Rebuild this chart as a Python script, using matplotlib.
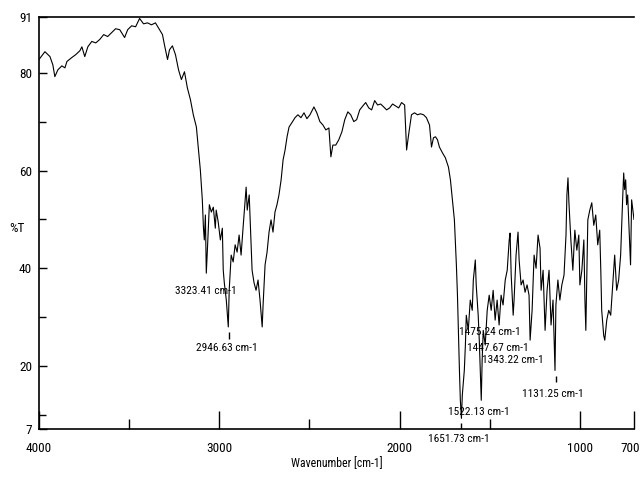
import matplotlib
matplotlib.use("Agg")
import matplotlib.pyplot as plt
from matplotlib.ticker import FixedLocator
from matplotlib.transforms import offset_copy

# FTIR spectrum
wavenumber = [
    4000, 3967, 3939, 3923, 3912, 3895, 3873, 3856, 3845, 3818, 3796, 3773,
    3762, 3746, 3729, 3707, 3685, 3663, 3641, 3619, 3597, 3575, 3552, 3525,
    3508, 3486, 3464, 3442, 3420, 3398, 3376, 3354, 3331, 3315, 3304, 3287,
    3276, 3260, 3243, 3226, 3210, 3193, 3177, 3160, 3144, 3127, 3116, 3105,
    3094, 3088, 3083, 3077, 3072, 3066, 3055, 3044, 3033, 3022, 3017, 3006,
    2994, 2983, 2978, 2972, 2961, 2950, 2945, 2934, 2923, 2912, 2901, 2890,
    2879, 2867, 2856, 2851, 2845, 2834, 2823, 2818, 2807, 2796, 2785, 2774,
    2762, 2757, 2746, 2735, 2724, 2713, 2702, 2691, 2680, 2669, 2657, 2646,
    2635, 2624, 2613, 2597, 2580, 2564, 2547, 2530, 2514, 2497, 2475, 2459,
    2442, 2425, 2409, 2392, 2381, 2370, 2354, 2337, 2320, 2304, 2287, 2271,
    2254, 2238, 2221, 2204, 2188, 2171, 2155, 2138, 2122, 2105, 2088, 2072,
    2055, 2039, 2022, 2005, 1989, 1972, 1961, 1950, 1934, 1917, 1901, 1884,
    1867, 1851, 1834, 1823, 1812, 1801, 1790, 1779, 1762, 1746, 1729, 1718,
    1707, 1696, 1690, 1685, 1679, 1674, 1668, 1663, 1657, 1652, 1641, 1635,
    1630, 1619, 1608, 1597, 1591, 1580, 1575, 1564, 1558, 1547, 1542, 1536,
    1525, 1514, 1503, 1492, 1481, 1470, 1459, 1448, 1437, 1426, 1414, 1403,
    1392, 1387, 1381, 1370, 1365, 1354, 1343, 1337, 1326, 1315, 1304, 1293,
    1282, 1276, 1265, 1254, 1243, 1232, 1221, 1215, 1204, 1193, 1182, 1171,
    1160, 1149, 1138, 1133, 1122, 1111, 1100, 1088, 1077, 1072, 1066, 1061,
    1050, 1039, 1028, 1017, 1006, 1000, 989, 978, 972, 967, 961, 956,
    945, 934, 923, 912, 901, 890, 884, 879, 868, 862, 851, 840,
    829, 818, 807, 796, 785, 774, 763, 757, 752, 746, 741, 735,
    724, 719, 713, 700,
]
transmittance = [
    82.7, 84.3, 83.3, 81.6, 79.2, 80.6, 81.4, 81.0, 82.3, 83.1, 83.7, 84.5,
    85.3, 83.3, 85.3, 86.4, 86.1, 86.8, 87.8, 87.4, 88.2, 89.0, 88.8, 87.2,
    88.8, 89.6, 89.4, 91.1, 90.0, 90.2, 89.8, 90.2, 88.8, 87.8, 85.7, 82.7,
    84.7, 85.5, 83.7, 80.6, 78.6, 80.2, 76.9, 74.5, 71.4, 68.9, 64.6, 60.1,
    54.0, 48.4, 45.8, 50.9, 39.0, 43.7, 53.0, 51.5, 52.5, 48.2, 51.9, 49.5,
    45.8, 48.2, 39.6, 37.0, 33.5, 28.0, 35.5, 42.7, 41.3, 44.8, 43.3, 46.8,
    42.7, 48.8, 54.0, 56.6, 51.9, 55.0, 44.8, 39.6, 37.0, 35.5, 37.6, 33.5,
    28.0, 32.5, 40.7, 43.3, 47.4, 49.9, 47.4, 51.5, 53.0, 55.0, 58.1, 62.2,
    64.2, 66.9, 68.9, 69.8, 70.8, 71.4, 70.8, 71.8, 70.6, 71.4, 73.0, 71.8,
    70.0, 69.3, 68.3, 68.7, 62.8, 65.2, 65.2, 66.3, 67.9, 70.4, 72.0, 71.4,
    70.0, 70.4, 72.4, 73.2, 73.9, 72.8, 72.4, 74.3, 73.4, 73.6, 73.0, 72.4,
    72.8, 73.6, 73.2, 72.8, 73.9, 73.4, 64.2, 67.3, 71.4, 71.8, 71.4, 71.6,
    71.4, 70.8, 69.3, 64.8, 66.7, 66.9, 66.3, 64.8, 63.6, 62.6, 60.7, 58.1,
    54.0, 49.9, 44.8, 40.7, 34.5, 27.3, 19.1, 13.0, 9.3, 14.1, 19.1, 24.3,
    30.4, 27.3, 33.5, 31.4, 37.6, 41.7, 36.6, 30.4, 25.3, 13.0, 21.2, 27.3,
    24.3, 31.4, 34.5, 31.4, 35.5, 29.4, 33.5, 28.4, 34.5, 32.5, 37.6, 39.6,
    45.8, 47.2, 38.6, 30.4, 33.5, 42.7, 47.4, 41.7, 36.6, 37.6, 35.1, 36.6,
    34.5, 25.3, 31.4, 42.7, 40.0, 46.8, 44.1, 35.5, 39.6, 27.3, 35.5, 39.6,
    28.4, 33.5, 19.1, 32.5, 37.6, 33.5, 36.6, 38.6, 46.8, 55.0, 58.5, 53.6,
    45.8, 39.6, 47.8, 43.7, 46.8, 36.6, 39.6, 45.8, 33.5, 27.3, 39.6, 49.9,
    51.9, 53.4, 48.8, 50.9, 44.8, 47.8, 39.6, 31.4, 26.3, 25.3, 29.4, 31.4,
    30.4, 36.6, 42.7, 35.5, 37.6, 42.7, 54.0, 59.5, 56.1, 58.1, 53.0, 55.0,
    44.8, 40.7, 54.0, 50.0,
]

# peak labels as printed on the chart
peak_labels = [
    "3323.41 cm-1", "2946.63 cm-1", "1475.24 cm-1", "1447.67 cm-1",
    "1343.22 cm-1", "1131.25 cm-1", "1522.13 cm-1", "1651.73 cm-1",
]
# where each label sits (wavenumber, %T)
label_x = [3072, 2956, 1497, 1453, 1370, 1149, 1558, 1674]
label_y = [35.3, 23.6, 26.9, 23.6, 21.2, 14.2, 10.5, 5.0]

# small peak marks
mark_x = [2948, 1133, 1657]
mark_lo = [25.5, 16.8, 7.1]
mark_hi = [27.0, 18.0, 8.3]

x_ticks = [4000, 3000, 2000, 1000, 700]
x_minor = [3500, 2500, 1500]
y_lo, y_hi = 7.1, 91.4
y_ticks = [y_lo, 20, 40, 60, 80, y_hi]
y_tick_labels = ["7", "20", "40", "60", "80", "91"]
y_minor = [10, 30, 50, 70]

FONTS = ['DejaVu Sans Condensed', 'Liberation Sans Narrow', 'Roboto Condensed',
         'DejaVu Sans']


def make_plot(out_path):
    """
    Draw the spectrum with its peak labels and save it.
    """
    plt.rcParams['font.family'] = FONTS
    plt.rcParams['font.stretch'] = 'condensed'
    fig = plt.figure(figsize=(6.42, 4.80), dpi=100)
    ax = fig.add_axes([0.0607, 0.106, 0.9268, 0.8586])

    ax.plot(wavenumber, transmittance, color='black', lw=0.8)

    ax.set_xlim(4000, 700)
    ax.set_ylim(y_lo, y_hi)

    ax.set_xticks(x_ticks)
    ax.set_xticklabels([str(t) for t in x_ticks])
    ax.xaxis.set_minor_locator(FixedLocator(x_minor))
    ax.set_yticks(y_ticks)
    ax.set_yticklabels(y_tick_labels)
    ax.yaxis.set_minor_locator(FixedLocator(y_minor))

    ax.tick_params(axis='x', which='major', direction='in', length=13,
                   width=1, pad=9, labelsize=9.5)
    ax.tick_params(axis='x', which='minor', direction='in', length=7, width=1)
    ax.tick_params(axis='y', which='major', direction='in', length=6,
                   width=1, pad=5, labelsize=9.5)
    ax.tick_params(axis='y', which='minor', direction='in', length=5, width=1)

    # keep the last x label ("700") inside the picture
    last = ax.get_xticklabels()[-1]
    last.set_transform(offset_copy(last.get_transform(), fig=fig, x=-4, units='dots'))

    ax.spines['right'].set_visible(False)
    for side in ('left', 'bottom', 'top'):
        ax.spines[side].set_linewidth(1.2)

    ax.set_xlabel('Wavenumber [cm-1]', fontsize=8.5, labelpad=2)
    ax.set_ylabel('%T', fontsize=9.5, rotation=0)
    ax.yaxis.set_label_coords(-0.037, 0.47)

    for txt, lx, ly in zip(peak_labels, label_x, label_y):
        ax.text(lx, ly, txt, fontsize=8.2, ha='center', va='center',
                clip_on=False)
    ax.vlines(mark_x, mark_lo, mark_hi, color='black', lw=1)

    fig.savefig(out_path, dpi=100)
    print(f"Saved {out_path}")


def main():
    make_plot('out.png')


if __name__ == "__main__":
    main()
